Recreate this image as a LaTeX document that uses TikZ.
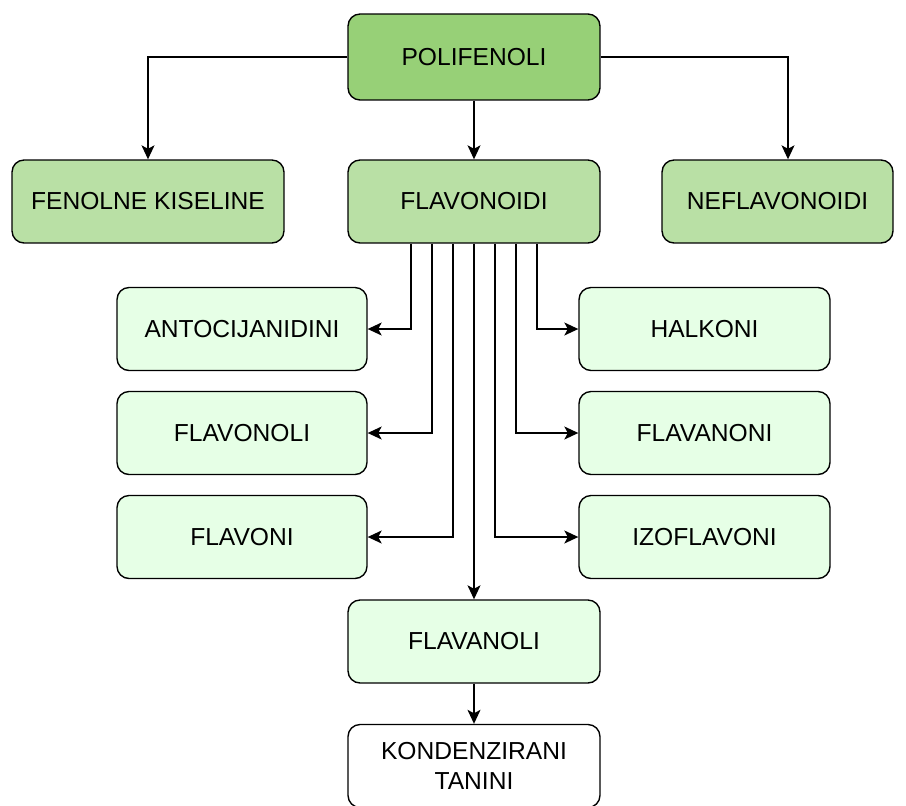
\documentclass[tikz,border=0pt]{standalone}
\usepackage{fontspec}
\setmainfont{Liberation Sans}
\usetikzlibrary{arrows.meta}
\definecolor{darkgr}{HTML}{97D077}
\definecolor{midgr}{HTML}{B9E0A5}
\definecolor{lightgr}{HTML}{E6FFE6}

\begin{document}
\begin{tikzpicture}[x=0.02cm,y=-0.02cm,
  box/.style={draw, line width=0.8pt, rounded corners=0.24cm, minimum width=5.04cm,
    minimum height=1.66cm, align=center, inner sep=0pt,
    font=\fontsize{14}{17}\selectfont},
  arr/.style={-{Stealth[length=0.28cm,width=0.26cm,inset=0.07cm]}, line width=0.8pt}]

\useasboundingbox (0,0) rectangle (906,805);

\node[box, fill=darkgr, minimum height=1.72cm] (poli) at (474,57) {POLIFENOLI};

\node[box, fill=midgr, minimum width=5.44cm] (fenol) at (148,201.5) {FENOLNE KISELINE};
\node[box, fill=midgr] (flavd) at (474,201.5) {FLAVONOIDI};
\node[box, fill=midgr, minimum width=4.62cm] (neflav) at (777.5,201.5) {NEFLAVONOIDI};

\node[box, fill=lightgr, minimum width=5cm] (anto) at (242,329) {ANTOCIJANIDINI};
\node[box, fill=lightgr, minimum width=5cm] (flavonoli) at (242,433) {FLAVONOLI};
\node[box, fill=lightgr, minimum width=5cm] (flavoni) at (242,537) {FLAVONI};

\node[box, fill=lightgr, minimum width=5.02cm] (halk) at (704.5,329) {HALKONI};
\node[box, fill=lightgr, minimum width=5.02cm] (flavanoni) at (704.5,433) {FLAVANONI};
\node[box, fill=lightgr, minimum width=5.02cm] (izo) at (704.5,537) {IZOFLAVONI};

\node[box, fill=lightgr] (flavanoli) at (474,641.5) {FLAVANOLI};
\node[box, fill=white] (tanini) at (474,766) {KONDENZIRANI\\TANINI};

\draw[arr] (poli.west) -| (fenol.north);
\draw[arr] (poli) -- (flavd);
\draw[arr] (poli.east) -| ([xshift=0.21cm]neflav.north);

\draw[arr] ([xshift=-1.26cm]flavd.south) |- (anto.east);
\draw[arr] ([xshift=-0.84cm]flavd.south) |- (flavonoli.east);
\draw[arr] ([xshift=-0.42cm]flavd.south) |- (flavoni.east);
\draw[arr] (flavd) -- (flavanoli);
\draw[arr] ([xshift=0.42cm]flavd.south) |- (izo.west);
\draw[arr] ([xshift=0.84cm]flavd.south) |- (flavanoni.west);
\draw[arr] ([xshift=1.26cm]flavd.south) |- (halk.west);

\draw[arr] (flavanoli) -- (tanini);

\end{tikzpicture}
\end{document}
